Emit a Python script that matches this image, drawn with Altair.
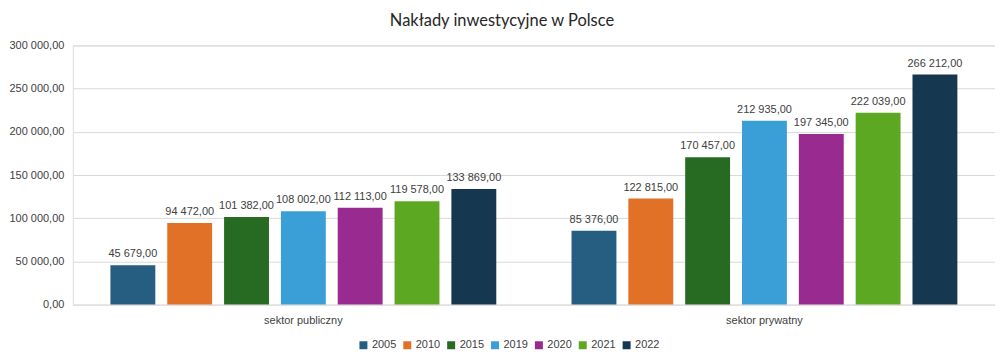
import altair as alt
import pandas as pd

categories = ["sektor publiczny", "sektor prywatny"]
years = ["2005", "2010", "2015", "2019", "2020", "2021", "2022"]
publiczny = [45679, 94472, 101382, 108002, 112113, 119578, 133869]
prywatny = [85376, 122815, 170457, 212935, 197345, 222039, 266212]
colors = ["#255E80", "#E07127", "#276A22", "#3A9FD6", "#992A90", "#5CA823", "#15374F"]

rows = []
for y, v in zip(years, publiczny):
    rows.append({"sektor": categories[0], "rok": y, "wartosc": v})
for y, v in zip(years, prywatny):
    rows.append({"sektor": categories[1], "rok": y, "wartosc": v})
df = pd.DataFrame(rows)

fmt = "replace(replace(format(%s, ',.2f'), regexp(',', 'g'), ' '), '.', ',')"

FONT = "Liberation Sans"

base = alt.Chart(df).transform_calculate(
    lab=fmt % "datum.wartosc"
).encode(
    x=alt.X("sektor:N", sort=categories, title=None,
            scale=alt.Scale(paddingInner=0, paddingOuter=0),
            axis=alt.Axis(labelAngle=0, domain=False, ticks=False, labelPadding=10,
                          labelFont=FONT, labelFontSize=11, labelColor="#404040")),
    xOffset=alt.XOffset("rok:N", sort=years,
                        scale=alt.Scale(paddingInner=0.21, paddingOuter=0.662)),
)

bars = base.mark_bar().encode(
    y=alt.Y("wartosc:Q", title=None,
            scale=alt.Scale(domain=[0, 300000]),
            axis=alt.Axis(values=[0, 50000, 100000, 150000, 200000, 250000, 300000],
                          labelExpr=fmt % "datum.value",
                          domain=False, ticks=False, labelPadding=9,
                          gridColor="#d9d9d9", gridWidth=1,
                          labelFont=FONT, labelFontSize=11, labelColor="#404040")),
    color=alt.Color("rok:N", sort=years, title=None,
                    scale=alt.Scale(domain=years, range=colors),
                    legend=alt.Legend(orient="none", direction="horizontal", symbolType="square",
                                      legendX=286, legendY=295,
                                      symbolSize=64, labelFont=FONT, labelFontSize=11,
                                      labelColor="#404040", columnPadding=5, labelOffset=3,
                                      symbolStrokeWidth=0)),
)

texts = base.mark_text(dy=-11, font=FONT, fontSize=11, color="#404040").encode(
    y=alt.Y("wartosc:Q"),
    text="lab:N",
)

chart = (bars + texts).properties(
    width=925, height=260,
    title=alt.TitleParams("Nakłady inwestycyjne w Polsce", font="Lato", fontSize=16.5,
                          fontWeight="normal", color="#262626", offset=10, frame="bounds",
                          anchor="middle"),
    padding={"left": 0, "top": 4, "right": 0, "bottom": 0},
).configure_view(stroke=None).configure(background="white")

chart.save("out.html", embed_options={"renderer": "svg", "actions": False})
